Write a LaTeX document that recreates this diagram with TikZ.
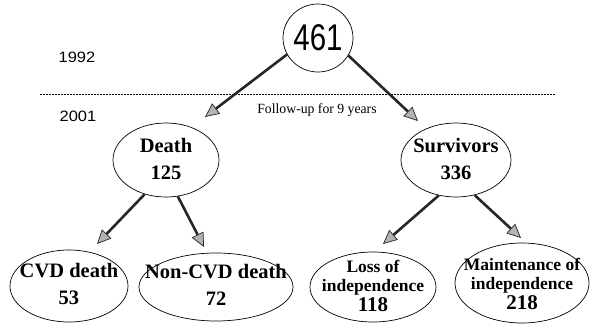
\documentclass[tikz,border=0pt]{standalone}
\usepackage{fontspec}
\setmainfont{Liberation Serif}
\newfontfamily\sansf{Liberation Sans}
\usetikzlibrary{arrows.meta,shapes.geometric}
\begin{document}
\begin{tikzpicture}[x=1pt,y=-1pt,
  shell/.style={draw,ellipse,inner sep=0pt,line width=0.7pt},
  big/.style={inner sep=0pt,font=\bfseries\fontsize{20.5}{27}\selectfont,align=center},
  small/.style={inner sep=0pt,font=\bfseries\fontsize{17.5}{18.5}\selectfont,align=center},
  arr/.style={line width=2.6pt,draw=black!85,-{Triangle[length=14pt,width=13pt,fill=gray!60,line width=0.7pt]}},
  yr/.style={font=\sansf\fontsize{15}{17}\selectfont}]
\useasboundingbox (0,0) rectangle (594,324);
\node[shell,minimum width=70pt,minimum height=68pt,font=\sansf\fontsize{31}{32}\selectfont] (top) at (318,38) {\scalebox{0.95}[1.2]{461}};
\node[yr] (y1) at (77,57) {\scalebox{1.1}[1]{1992}};
\node[yr] (y2) at (78,116) {\scalebox{1.1}[1]{2001}};
\coordinate (dl) at (40,94);
\coordinate (dr) at (556,94);
\draw[dash pattern=on 2pt off 1pt,line width=0.6pt] (dl) -- (dr);
\node[font=\fontsize{14}{16}\selectfont] (fu) at (317,110) {\scalebox{0.98}[1]{Follow-up for 9 years}};
% ellipses
\node[shell,minimum width=106pt,minimum height=74pt] (death) at (166,160) {};
\node[shell,minimum width=110pt,minimum height=74pt] (surv) at (456,160) {};
\node[shell,minimum width=118pt,minimum height=72pt] (cvd) at (69,286) {};
\node[shell,minimum width=154pt,minimum height=68pt] (ncvd) at (216,287) {};
\node[shell,minimum width=126pt,minimum height=70pt] (loss) at (373,287) {};
\node[shell,minimum width=134pt,minimum height=80pt] (main) at (522,283) {};
% texts
\node[big] (deatht) at (166,159) {Death\\125};
\node[big] (survt) at (456,159) {Survivors\\336};
\node[big] (cvdt) at (69,284) {CVD death\\53};
\node[big] (ncvdt) at (216,285) {Non-CVD death\\72};
\node[small] (losst) at (373,286) {Loss of\\independence\\[2pt]{\fontsize{21}{21}\selectfont 118}};
\node[small] (maint) at (522,284) {Maintenance of\\independence\\[2pt]{\fontsize{21}{21}\selectfont 218}};
% arrows
\draw[arr] (top.208) -- (205,117);
\draw[arr] (top.-30) -- (418,121);
\draw[arr] (death.-122) -- (97,244);
\draw[arr] (death.-72) -- (204,247);
\draw[arr] (surv.-116) -- (383,244);
\draw[arr] (surv.-62) -- (521,238);
\end{tikzpicture}
\end{document}
